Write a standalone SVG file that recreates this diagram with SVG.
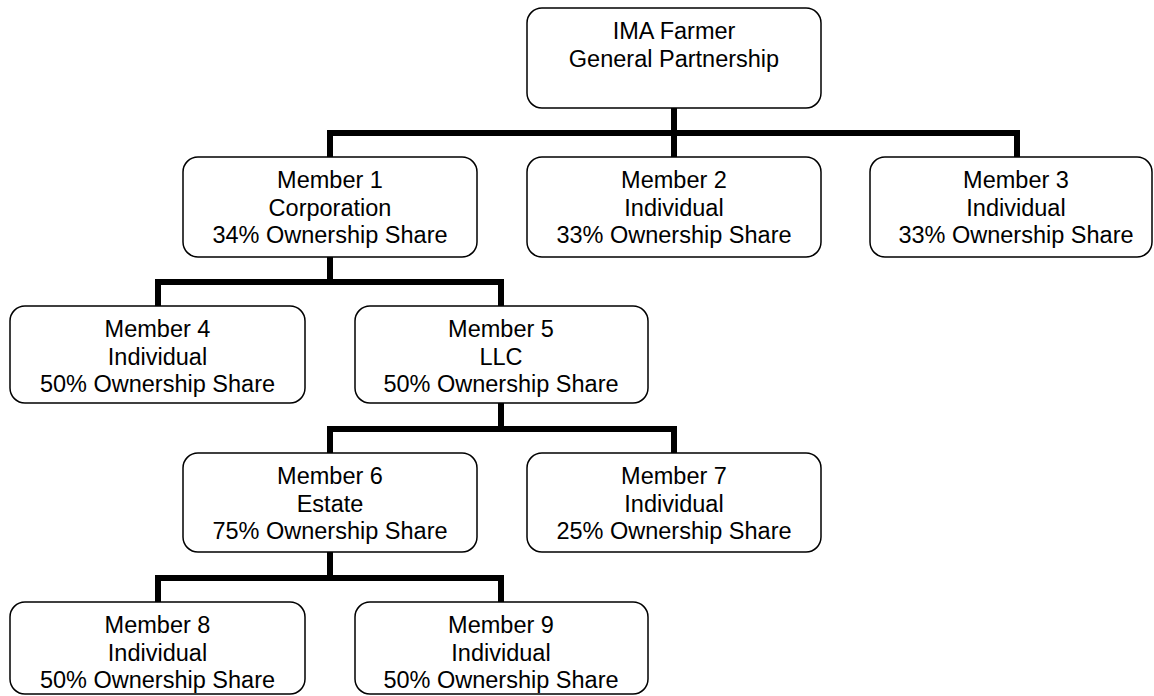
<svg xmlns="http://www.w3.org/2000/svg" width="1154" height="696" viewBox="0 0 1154 696">
<style>
.box{fill:#fff;stroke:#000;stroke-width:1.5}
.t{font-family:"Liberation Sans",Arial,sans-serif;font-size:23.5px;fill:#000;text-anchor:middle}
.c{fill:none;stroke:#000;stroke-width:6;stroke-linecap:square}
</style>
<rect width="1154" height="696" fill="#fff"/>
<g id="connectors">
<path class="c" d="M674 108V157M330 157V133H1017V157"/>
<path class="c" d="M330 257V282M158 306V282H501V306"/>
<path class="c" d="M501 404V429M330 453V429H674V453"/>
<path class="c" d="M330 553V578M158 602V578H501V602"/>
</g>
<g id="top">
<rect class="box" x="527" y="8" width="294" height="100" rx="15"/>
<text class="t" x="674" y="39">IMA Farmer</text>
<text class="t" x="674" y="66.5">General Partnership</text>
</g>
<g id="m1">
<rect class="box" x="183" y="157" width="294" height="100" rx="15"/>
<text class="t" x="330" y="188">Member 1</text>
<text class="t" x="330" y="215.5">Corporation</text>
<text class="t" x="330" y="243">34% Ownership Share</text>
</g>
<g id="m2">
<rect class="box" x="527" y="157" width="294" height="100" rx="15"/>
<text class="t" x="674" y="188">Member 2</text>
<text class="t" x="674" y="215.5">Individual</text>
<text class="t" x="674" y="243">33% Ownership Share</text>
</g>
<g id="m3">
<rect class="box" x="870" y="157" width="282" height="100" rx="15"/>
<text class="t" x="1016" y="188">Member 3</text>
<text class="t" x="1016" y="215.5">Individual</text>
<text class="t" x="1016" y="243">33% Ownership Share</text>
</g>
<g id="m4">
<rect class="box" x="10" y="306" width="295" height="97" rx="15"/>
<text class="t" x="157.5" y="337">Member 4</text>
<text class="t" x="157.5" y="364.5">Individual</text>
<text class="t" x="157.5" y="392">50% Ownership Share</text>
</g>
<g id="m5">
<rect class="box" x="355" y="306" width="293" height="97" rx="15"/>
<text class="t" x="501" y="337">Member 5</text>
<text class="t" x="501" y="364.5">LLC</text>
<text class="t" x="501" y="392">50% Ownership Share</text>
</g>
<g id="m6">
<rect class="box" x="183" y="453" width="294" height="99" rx="15"/>
<text class="t" x="330" y="484">Member 6</text>
<text class="t" x="330" y="511.5">Estate</text>
<text class="t" x="330" y="539">75% Ownership Share</text>
</g>
<g id="m7">
<rect class="box" x="527" y="453" width="294" height="99" rx="15"/>
<text class="t" x="674" y="484">Member 7</text>
<text class="t" x="674" y="511.5">Individual</text>
<text class="t" x="674" y="539">25% Ownership Share</text>
</g>
<g id="m8">
<rect class="box" x="10" y="602" width="295" height="92" rx="15"/>
<text class="t" x="157.5" y="633">Member 8</text>
<text class="t" x="157.5" y="660.5">Individual</text>
<text class="t" x="157.5" y="688">50% Ownership Share</text>
</g>
<g id="m9">
<rect class="box" x="355" y="602" width="293" height="92" rx="15"/>
<text class="t" x="501" y="633">Member 9</text>
<text class="t" x="501" y="660.5">Individual</text>
<text class="t" x="501" y="688">50% Ownership Share</text>
</g>
</svg>
